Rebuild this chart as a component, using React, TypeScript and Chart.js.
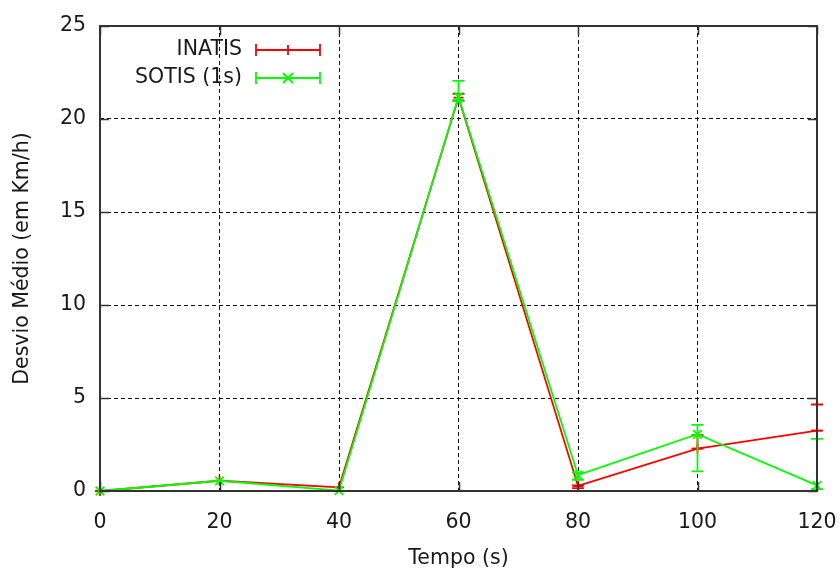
import React, { useEffect, useRef } from "react";
import { Chart, registerables } from "chart.js";

Chart.register(...registerables);

// ---- data ----
const times = [0, 20, 40, 60, 80, 100, 120];
const seriesNames = ["INATIS", "SOTIS (1s)"];
const inatis = [0, 0.55, 0.2, 21.15, 0.27, 2.28, 3.25];
const inatisLow = [0, 0.55, 0.2, 21.0, 0.15, 2.28, 3.25];
const inatisHigh = [0, 0.55, 0.2, 21.35, 0.3, 3.0, 4.65];
const sotis = [0, 0.55, 0.02, 21.2, 0.85, 3.05, 0.3];
const sotisLow = [0, 0.55, 0.02, 20.95, 0.6, 1.05, 0.1];
const sotisHigh = [0, 0.55, 0.02, 22.05, 1.0, 3.55, 2.8];
const xTickStep = 20;
const yTickStep = 5;
const xMin = 0, xMax = 120, yMin = 0, yMax = 25;
const xTitle = "Tempo (s)";
const yTitle = "Desvio Médio (em Km/h)";

const RED = "#ff0000";
const GREEN = "#00ff00";
const FONT_FAMILY = "'DejaVu Sans', sans-serif";
const FONT_SIZE = 20.5;
const TEXT = "#1a1a1a";
const BORDER = "#333333";

const errorBars = {
  id: "errorBars",
  afterDatasetDraw(chart: any, args: any) {
    const ds: any = chart.data.datasets[args.index];
    const { ctx } = chart;
    const xs = chart.scales.x;
    const ys = chart.scales.y;
    ctx.save();
    ctx.strokeStyle = ds.borderColor;
    ctx.lineWidth = 1.8;
    ctx.setLineDash([]);
    ds.data.forEach((pt: any, i: number) => {
      const lo = ds.errLow[i];
      const hi = ds.errHigh[i];
      if (lo === hi) return;
      const px = xs.getPixelForValue(pt.x);
      const yl = ys.getPixelForValue(lo);
      const yh = ys.getPixelForValue(hi);
      ctx.beginPath();
      ctx.moveTo(px, yl);
      ctx.lineTo(px, yh);
      ctx.moveTo(px - 6, yl);
      ctx.lineTo(px + 6, yl);
      ctx.moveTo(px - 6, yh);
      ctx.lineTo(px + 6, yh);
      ctx.stroke();
    });
    ctx.restore();
  },
};

const frame = {
  id: "frame",
  afterDatasetsDraw(chart: any) {
    const { ctx, chartArea } = chart;
    const { left, right, top, bottom } = chartArea;
    const xs = chart.scales.x;
    const ys = chart.scales.y;
    ctx.save();
    ctx.setLineDash([]);
    ctx.strokeStyle = BORDER;
    ctx.lineWidth = 2;
    ctx.strokeRect(left, top, right - left, bottom - top);
    const tl = 9;
    ctx.lineWidth = 1.5;
    ctx.beginPath();
    xs.ticks.forEach((t: any) => {
      const px = Math.round(xs.getPixelForValue(t.value)) + 0.5;
      ctx.moveTo(px, bottom);
      ctx.lineTo(px, bottom - tl);
      ctx.moveTo(px, top);
      ctx.lineTo(px, top + tl);
    });
    ys.ticks.forEach((t: any) => {
      const py = Math.round(ys.getPixelForValue(t.value)) + 0.5;
      ctx.moveTo(left, py);
      ctx.lineTo(left + tl, py);
      ctx.moveTo(right, py);
      ctx.lineTo(right - tl, py);
    });
    ctx.stroke();
    ctx.restore();
  },
};

const legendBox = {
  id: "legendBox",
  afterDraw(chart: any) {
    const { ctx, chartArea } = chart;
    const textRight = chartArea.left + 142;
    const x1 = chartArea.left + 156;
    const x2 = chartArea.left + 220;
    const xm = (x1 + x2) / 2;
    ctx.save();
    chart.data.datasets.forEach((ds: any, i: number) => {
      const y = chartArea.top + 24 + i * 28;
      ctx.font = `${FONT_SIZE}px ${FONT_FAMILY}`;
      ctx.fillStyle = TEXT;
      ctx.textAlign = "right";
      ctx.textBaseline = "middle";
      ctx.fillText(ds.label, textRight, y);
      ctx.strokeStyle = ds.borderColor;
      ctx.lineWidth = 1.8;
      ctx.setLineDash([]);
      ctx.beginPath();
      ctx.moveTo(x1, y);
      ctx.lineTo(x2, y);
      ctx.moveTo(x1, y - 6);
      ctx.lineTo(x1, y + 6);
      ctx.moveTo(x2, y - 6);
      ctx.lineTo(x2, y + 6);
      if (ds.pointStyle === "cross") {
        ctx.moveTo(xm, y - 5);
        ctx.lineTo(xm, y + 5);
      } else {
        ctx.moveTo(xm - 5, y - 5);
        ctx.lineTo(xm + 5, y + 5);
        ctx.moveTo(xm - 5, y + 5);
        ctx.lineTo(xm + 5, y - 5);
      }
      ctx.stroke();
    });
    ctx.restore();
  },
};

export default function App() {
  const ref = useRef<HTMLCanvasElement | null>(null);
  useEffect(() => {
    if (!ref.current) return;
    const font = { family: FONT_FAMILY, size: FONT_SIZE };
    const chart = new Chart(ref.current, {
      type: "line",
      data: {
        datasets: [
          {
            label: seriesNames[0],
            data: times.map((t, i) => ({ x: t, y: inatis[i] })),
            errLow: inatisLow,
            errHigh: inatisHigh,
            borderColor: RED,
            backgroundColor: RED,
            borderWidth: 1.8,
            pointStyle: "cross",
            pointRadius: 5,
            pointBorderWidth: 1.8,
            pointBorderColor: RED,
            tension: 0,
            clip: false,
            order: 2,
          } as any,
          {
            label: seriesNames[1],
            data: times.map((t, i) => ({ x: t, y: sotis[i] })),
            errLow: sotisLow,
            errHigh: sotisHigh,
            borderColor: GREEN,
            backgroundColor: GREEN,
            borderWidth: 1.8,
            pointStyle: "crossRot",
            pointRadius: 6,
            pointBorderWidth: 1.8,
            pointBorderColor: GREEN,
            tension: 0,
            clip: false,
            order: 1,
          } as any,
        ],
      },
      options: {
        animation: false,
        responsive: false,
        devicePixelRatio: 1,
        layout: { padding: { left: 0, right: 23, top: 26, bottom: 0 } },
        plugins: {
          legend: { display: false },
          tooltip: { enabled: false },
        },
        scales: {
          x: {
            type: "linear",
            min: xMin,
            max: xMax,
            afterFit: (s: any) => {
              s.height = 78;
              s.paddingLeft = 0;
              s.paddingRight = 0;
            },
            ticks: { stepSize: xTickStep, font, color: TEXT, padding: 19, maxRotation: 0 },
            grid: { color: "#111", lineWidth: 1, drawTicks: false },
            border: { display: false, dash: [4, 3] },
            title: { display: true, text: xTitle, font, color: TEXT, padding: { top: 0, bottom: -2 } },
          },
          y: {
            type: "linear",
            min: yMin,
            max: yMax,
            afterFit: (s: any) => {
              s.width = 100;
              s.paddingTop = 0;
              s.paddingBottom = 0;
            },
            ticks: { stepSize: yTickStep, font, color: TEXT, padding: 14 },
            grid: { color: "#111", lineWidth: 1, drawTicks: false },
            border: { display: false, dash: [4, 3] },
            title: { display: true, text: yTitle, font, color: TEXT, padding: { top: 10, bottom: 0 } },
          },
        },
      } as any,
      plugins: [errorBars, frame, legendBox],
    });
    return () => chart.destroy();
  }, []);
  return (
    <div style={{ position: "fixed", left: 0, top: 0, width: 840, height: 569, background: "#fff" }}>
      <canvas ref={ref} width={840} height={569} />
    </div>
  );
}
